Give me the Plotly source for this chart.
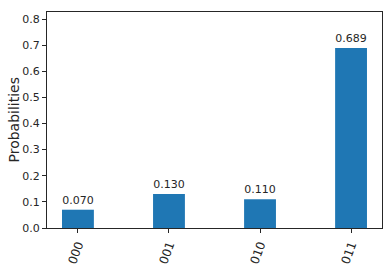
import plotly.graph_objects as go

states = ["000", "001", "010", "011"]
probs = [0.070, 0.130, 0.110, 0.689]
yticks = [0.0, 0.1, 0.2, 0.3, 0.4, 0.5, 0.6, 0.7, 0.8]
ylabel = "Probabilities"

fig = go.Figure(go.Bar(
    x=list(range(len(states))), y=probs, width=0.35,
    marker=dict(color="#1f77b4", line=dict(width=0)),
    texttemplate="%{y:.3f}", textposition="outside", cliponaxis=False,
    textfont=dict(family="DejaVu Sans", size=11, color="#262626"),
))
axis_common = dict(showline=True, linecolor="#262626", linewidth=1, mirror=True,
                   ticks="outside", ticklen=4, tickcolor="#262626", showgrid=False,
                   zeroline=False, automargin=False)
fig.update_layout(
    width=392, height=268, margin=dict(l=47, r=10, t=12, b=40),
    plot_bgcolor="white", paper_bgcolor="white", showlegend=False,
    xaxis=dict(range=[-0.34, 3.34], tickvals=list(range(len(states))), ticktext=states,
               tickangle=-70, tickfont=dict(family="DejaVu Sans", size=12, color="#262626"),
               **axis_common),
    yaxis=dict(range=[0, 0.689 * 1.2], tickvals=yticks, tickformat=".1f",
               tickfont=dict(family="DejaVu Sans", size=11, color="#262626"),
               **axis_common),
    annotations=[dict(text=ylabel, xref="paper", yref="paper", x=-0.1, y=0.5,
                      xanchor="center", yanchor="middle", textangle=-90, showarrow=False,
                      font=dict(family="DejaVu Sans", size=14, color="#262626"))],
)
fig.write_html("out.html")
